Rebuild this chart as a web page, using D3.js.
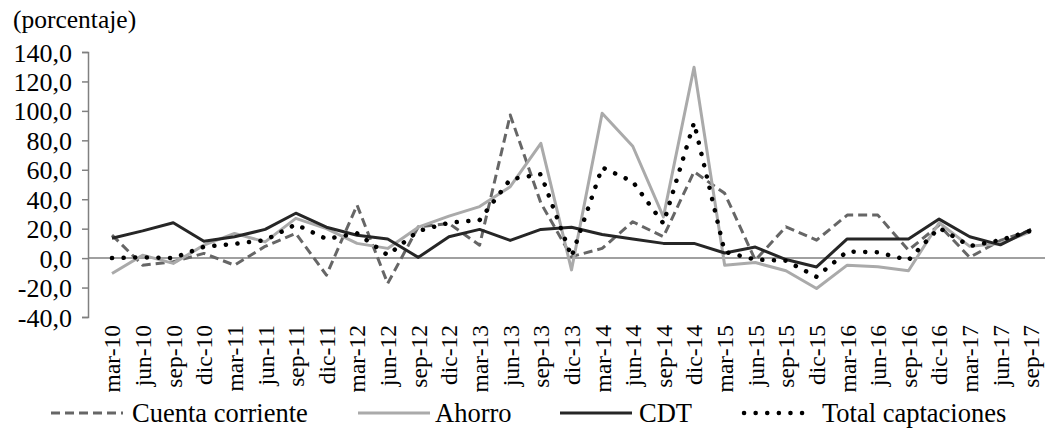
<!DOCTYPE html>
<html><head><meta charset="utf-8">
<script src="https://cdn.jsdelivr.net/npm/d3@7"></script>
</head>
<body style="margin:0;background:#fff">
<svg id="c" width="1049" height="430"></svg>
<script>
const categories = ["mar-10","jun-10","sep-10","dic-10","mar-11","jun-11","sep-11","dic-11","mar-12","jun-12","sep-12","dic-12","mar-13","jun-13","sep-13","dic-13","mar-14","jun-14","sep-14","dic-14","mar-15","jun-15","sep-15","dic-15","mar-16","jun-16","sep-16","dic-16","mar-17","jun-17","sep-17"];
const cuentaCorriente = [15.6,-4.8,-2.5,3.2,-4.8,8,16.8,-11.6,36,-17.2,21.3,23.5,8.8,97.2,37.4,1,6.6,24.7,14.5,58.7,44,-1.4,21.3,12.2,29.2,29.2,5.4,22.4,0.5,12,19];
const ahorro = [-10.4,2,-3.6,8.8,16.8,11,27,20,10,6.6,21,28.5,35,48.5,78,-8,98.4,76,28,129.6,-4.8,-3,-8.6,-20.6,-4.8,-5.9,-8.6,24,8,10,18];
const cdt = [13.5,18.5,24,11.5,14.5,19.5,30.5,21,15.5,13,0.5,14.5,19.5,12,19.5,21,16,13,10,10,3.5,7.5,-1,-6,13,13,13,26.5,14.5,9,19.5];
const totalCaptaciones = [0,0.5,0,7.7,9.7,12.2,22.9,13,16.8,2,18.4,24,25.8,53.5,57,1,61.6,51.9,23.5,92,4.3,-1,-1.8,-12.7,4.5,4,-1.4,20.6,8.2,12.2,18.6];
const yTicks = [-40,-20,0,20,40,60,80,100,120,140];
const seriesNames = ["Cuenta corriente","Ahorro","CDT","Total captaciones"];

const FONT = "Liberation Serif";
const svg = d3.select("#c");
const x = d3.scalePoint().domain(categories).range([112,1031]);
const y = d3.scaleLinear().domain([-40,140]).range([317,52]);
const fmt = v => d3.format(".1f")(v).replace(".",",").replace("−","-");

// y axis
const ya = svg.append("g").attr("transform","translate(88,0)")
  .call(d3.axisLeft(y).tickValues(yTicks).tickSize(6).tickFormat(fmt));
ya.attr("font-family",FONT).attr("font-size",26);
ya.select(".domain").attr("stroke","#808080").attr("stroke-width",1.5);
ya.selectAll(".tick line").attr("stroke","#808080").attr("stroke-width",1.5);
ya.selectAll(".tick text").attr("x",-16).attr("dy","0.35em").attr("fill","#000")
  .attr("font-family",FONT).attr("font-size",26);

// zero line
svg.append("line").attr("x1",88).attr("x2",1045).attr("y1",y(0)).attr("y2",y(0))
  .attr("stroke","#808080").attr("stroke-width",1.5);

// x labels
svg.append("g").selectAll("text").data(categories).join("text")
  .attr("transform",d=>`translate(${x(d)+3},325) rotate(-90)`)
  .attr("text-anchor","end").attr("dominant-baseline","middle")
  .attr("font-family",FONT).attr("font-size",23.5).attr("fill","#000").text(d=>d);

svg.append("text").attr("x",13).attr("y",28).attr("font-family",FONT).attr("font-size",25.5)
  .attr("fill","#000").text("(porcentaje)");

const styles = [
  {data:cuentaCorriente,stroke:"#666666",w:3,dash:"9 5",cap:"butt"},
  {data:ahorro,stroke:"#AAAAAA",w:3,dash:null,cap:"butt"},
  {data:cdt,stroke:"#262626",w:3,dash:null,cap:"butt"},
  {data:totalCaptaciones,stroke:"#000000",w:4.5,dash:"0.1 11.5",cap:"round"}
];
const line = d3.line().x((d,i)=>x(categories[i])).y(d=>y(d));
styles.forEach(s=>{
  svg.append("path").datum(s.data).attr("d",line).attr("fill","none")
    .attr("stroke",s.stroke).attr("stroke-width",s.w)
    .attr("stroke-dasharray",s.dash).attr("stroke-linecap",s.cap).attr("stroke-linejoin","round");
});

// legend
const leg = [
  {x1:51,x2:123,tx:132},
  {x1:358,x2:430,tx:435},
  {x1:560,x2:632,tx:639},
  {x1:744,x2:810,tx:822}
];
leg.forEach((l,i)=>{
  const s = styles[i];
  svg.append("line").attr("x1",l.x1).attr("x2",l.x2).attr("y1",413).attr("y2",413)
    .attr("stroke",s.stroke).attr("stroke-width",s.w)
    .attr("stroke-dasharray",s.dash).attr("stroke-linecap",s.cap);
  svg.append("text").attr("x",l.tx).attr("y",422).attr("font-family",FONT).attr("font-size",26.5)
    .attr("fill","#000").text(seriesNames[i]);
});
</script></body></html>
